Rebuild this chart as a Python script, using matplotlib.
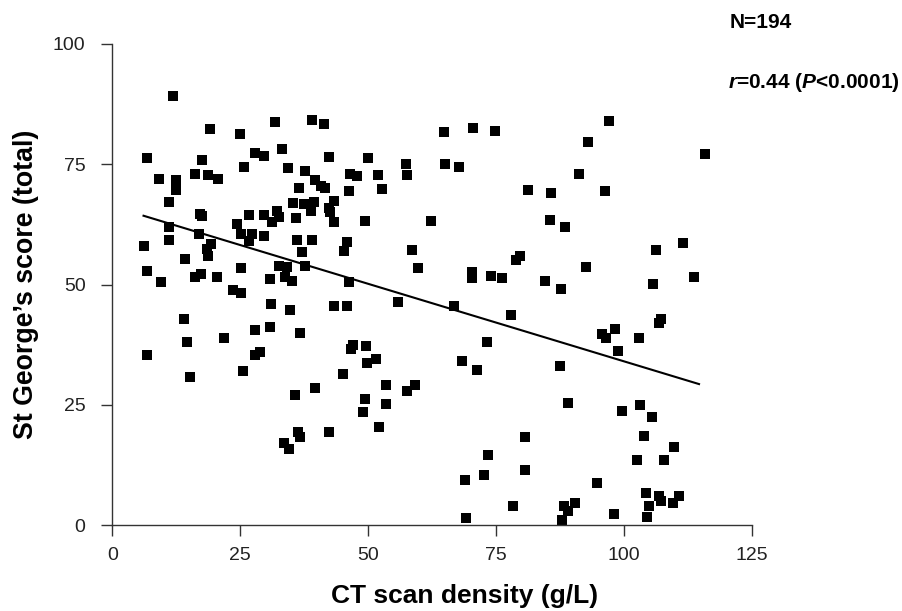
import numpy as np
import matplotlib
matplotlib.use("Agg")
import matplotlib.pyplot as plt

plt.rcParams['font.family'] = ['Liberation Sans', 'DejaVu Sans']
plt.rcParams['mathtext.fontset'] = 'custom'
plt.rcParams['mathtext.it'] = 'Liberation Sans:italic:bold'
plt.rcParams['mathtext.rm'] = 'Liberation Sans:bold'

# CT scan density (g/L), left part first
density_left = [11.9, 19.1, 24.9, 31.8, 39.0, 41.3, 6.7, 17.5, 27.9, 29.7, 33.1,
                25.7, 34.3, 37.6, 9.2, 12.4, 16.1, 18.6, 20.7, 39.5, 40.7, 41.6,
                12.4, 36.5, 11.0, 35.3, 37.4, 39.3, 38.9, 17.2, 17.6, 26.7, 29.6,
                32.1, 32.5, 31.2, 35.8, 11.0, 24.4, 17.0, 25.1, 27.3, 29.6, 26.7,
                11.0, 36.1, 39.1, 6.1, 19.3, 18.4, 18.6, 14.2, 37.0, 6.7, 25.2,
                32.5, 34.1, 37.6, 17.4, 16.2, 20.5, 9.6, 30.8, 33.7, 35.1, 23.6, 25.2,
                31.0, 34.7, 14.0, 27.9, 30.8, 36.6, 14.6, 21.8, 6.7, 28.8, 27.9,
                15.2, 25.5, 39.5, 35.6, 36.2, 36.6, 33.5, 34.5]
score_left = [89.2, 82.3, 81.2, 83.8, 84.2, 83.4, 76.3, 75.9, 77.4, 76.7, 78.2,
              74.5, 74.3, 73.7, 72.0, 71.8, 73.0, 72.8, 72.0, 71.8, 70.5, 70.1,
              69.6, 70.1, 67.2, 67.0, 66.7, 67.2, 65.4, 64.7, 64.2, 64.5, 64.5,
              65.2, 64.0, 63.1, 63.9, 62.0, 62.5, 60.6, 60.6, 60.6, 60.2, 59.1,
              59.2, 59.2, 59.2, 58.1, 58.5, 57.5, 55.9, 55.4, 56.7, 52.9, 53.4,
              53.8, 53.6, 53.8, 52.3, 51.5, 51.5, 50.5, 51.1, 51.5, 50.7, 48.8, 48.2,
              45.9, 44.7, 42.8, 40.5, 41.1, 39.9, 38.0, 38.9, 35.3, 36.0, 35.3,
              30.8, 32.0, 28.5, 27.1, 19.4, 18.4, 17.0, 15.9]

# middle part
density_mid = [64.8, 70.5, 74.7, 42.3, 49.9, 57.4, 65.0, 67.7, 46.5, 47.7, 51.8,
               57.6, 46.3, 52.6, 81.2, 43.4, 42.3, 42.5, 43.4, 49.3, 62.3, 45.8,
               45.2, 58.6, 59.8, 46.3, 70.3, 70.3, 74.0, 76.1, 78.8, 79.7,
               43.4, 45.8, 55.9, 66.8, 77.9, 73.2, 47.1, 46.7, 49.6, 51.5, 49.8,
               68.3, 71.2, 45.0, 53.5, 59.2, 57.6, 49.3, 53.5, 48.9, 52.0, 42.3,
               80.6, 73.4, 80.6, 72.6, 68.9, 78.2, 69.1]
score_mid = [81.7, 82.5, 81.9, 76.5, 76.3, 75.1, 75.1, 74.5, 73.0, 72.6, 72.8,
             72.8, 69.5, 69.9, 69.7, 67.4, 65.9, 65.1, 63.1, 63.3, 63.3, 58.9,
             56.9, 57.3, 53.4, 50.5, 52.7, 51.3, 51.7, 51.3, 55.2, 55.9,
             45.5, 45.5, 46.3, 45.5, 43.6, 38.0, 37.4, 36.6, 37.2, 34.5, 33.7,
             34.1, 32.2, 31.4, 29.1, 29.1, 27.9, 26.2, 25.2, 23.5, 20.4, 19.4,
             18.4, 14.6, 11.5, 10.5, 9.5, 4.1, 1.6]

# right part
density_right = [97.1, 93.0, 115.8, 91.1, 85.6, 96.3, 85.4, 88.4, 111.5, 106.1,
                 92.5, 84.5, 87.6, 105.7, 113.7,
                 107.2, 106.7, 95.6, 98.1, 96.5, 102.8, 98.7, 87.4, 89.0, 99.6,
                 103.0, 105.5, 103.9, 109.8, 102.4, 107.8, 94.6, 104.3, 106.8,
                 110.7, 107.2, 109.6, 104.9, 104.5, 90.3, 88.2, 89.1, 87.8, 97.9]
score_right = [84.0, 79.6, 77.2, 72.9, 69.1, 69.5, 63.5, 62.0, 58.7, 57.3,
               53.7, 50.7, 49.0, 50.2, 51.5,
               42.8, 42.0, 39.7, 40.7, 39.0, 38.9, 36.2, 33.1, 25.4, 23.7,
               25.0, 22.5, 18.6, 16.3, 13.6, 13.6, 8.8, 6.8, 6.1,
               6.1, 5.1, 4.7, 4.1, 1.8, 4.7, 4.1, 2.9, 1.2, 2.4]

x = np.array(density_left + density_mid + density_right)
y = np.array(score_left + score_mid + score_right)

xticks = [0, 25, 50, 75, 100, 125]
yticks = [0, 25, 50, 75, 100]

fig = plt.figure(figsize=(9.02, 6.11), dpi=100)
ax = fig.add_axes([0.1245, 0.1403, 0.7095, 0.7877])

ax.plot(x, y, 's', color='black', ms=7.2, mec='black', mew=0)

# least squares line over the data range
slope, intercept = np.polyfit(x, y, 1)
xl = np.array([x.min(), x.max() - 1.2])
ax.plot(xl, intercept + slope * xl, color='black', lw=1.5)

ax.set_xlim(0, 125)
ax.set_ylim(0, 100)
ax.set_xticks(xticks)
ax.set_yticks(yticks)

for s in ['top', 'right']:
    ax.spines[s].set_visible(False)
for s in ['left', 'bottom']:
    ax.spines[s].set_color('#333333')
    ax.spines[s].set_linewidth(1.0)
ax.tick_params(axis='both', direction='out', length=7.8, width=1.0,
               color='#333333', labelsize=14, labelcolor='#222222')
ax.tick_params(axis='y', pad=11.5)
ax.tick_params(axis='x', pad=8)

ax.set_xlabel('CT scan density (g/L)', fontsize=19, fontweight='bold')
ax.xaxis.set_label_coords(0.55, -0.146)
ax.xaxis.label.set_va('center')
ax.set_ylabel('St George\u2019s score (total)', fontsize=19.3, fontweight='bold')
ax.yaxis.set_label_coords(-0.135, 0.5)
ax.yaxis.label.set_va('center')

fig.text(730 / 902, 1 - 22 / 611, 'N=194', fontsize=15, fontweight='bold',
         ha='left', va='center')
fig.text(728 / 902, 1 - 83 / 611, r'$\mathit{r}$=0.44 ($\mathit{P}$<0.0001)',
         fontsize=15, fontweight='bold', ha='left', va='center')

fig.savefig('out.png', dpi=100)
